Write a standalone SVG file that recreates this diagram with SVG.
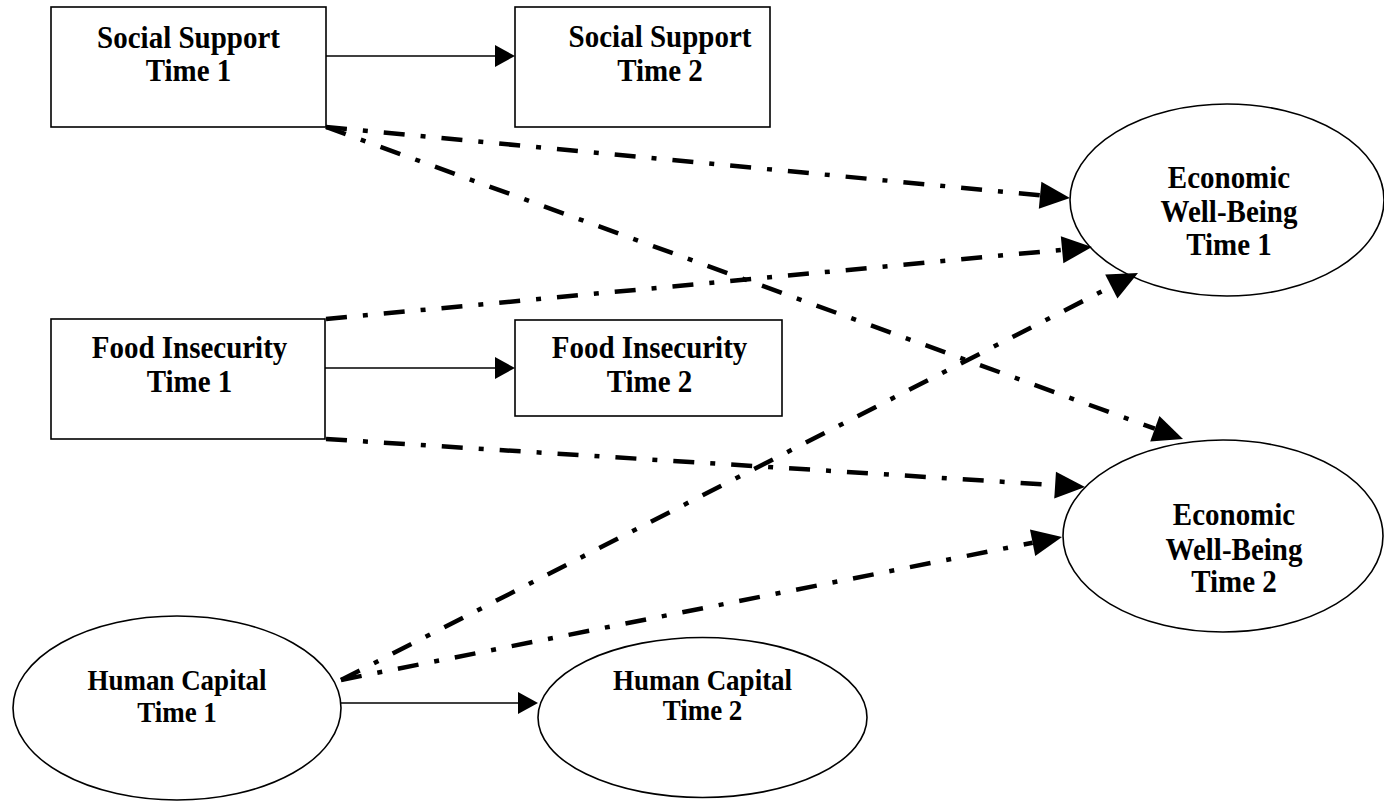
<svg xmlns="http://www.w3.org/2000/svg" width="1384" height="801" viewBox="0 0 1384 801">
  <style>
    .box { fill: #fff; stroke: #000; stroke-width: 1.6; }
    .oval { fill: #fff; stroke: #000; stroke-width: 1.6; }
    .lbl { font-family: "Liberation Serif", "Times New Roman", serif; font-weight: bold; font-size: 29px; text-anchor: middle; fill: #000; }
    .lbl.sm { font-size: 27px; }
    .solid { stroke: #000; stroke-width: 1.6; fill: none; marker-end: url(#headSolid); }
    .dashdot { stroke: #000; stroke-width: 4.5; fill: none; stroke-dasharray: 21 16 5 16; marker-end: url(#headBold); }
  </style>
  <defs>
    <marker id="headSolid" markerUnits="userSpaceOnUse" markerWidth="20" markerHeight="22" refX="0" refY="11" orient="auto" overflow="visible">
      <path d="M0,0 L20,11 L0,22 z" fill="#000"/>
    </marker>
    <marker id="headBold" markerUnits="userSpaceOnUse" markerWidth="30" markerHeight="27" refX="0" refY="13.5" orient="auto" overflow="visible">
      <path d="M0,0 L30,13.5 L0,27 z" fill="#000"/>
    </marker>
  </defs>

  <rect width="1384" height="801" fill="#fff"/>

  <!-- nodes; labels are set in a slightly tall Times-style face -->
  <g id="social-support-t1">
    <rect class="box" x="51" y="7" width="275" height="120"/>
    <text class="lbl" transform="matrix(1 0 0 1.12 188.5 48)">Social Support</text>
    <text class="lbl" transform="matrix(1 0 0 1.12 188.5 81)">Time 1</text>
  </g>
  <g id="social-support-t2">
    <rect class="box" x="515" y="7" width="255" height="120"/>
    <text class="lbl" transform="matrix(1 0 0 1.12 660 47)">Social Support</text>
    <text class="lbl" transform="matrix(1 0 0 1.12 660 81)">Time 2</text>
  </g>
  <g id="food-insecurity-t1">
    <rect class="box" x="51" y="319" width="274" height="120"/>
    <text class="lbl" transform="matrix(1 0 0 1.12 189.5 358)">Food Insecurity</text>
    <text class="lbl" transform="matrix(1 0 0 1.12 189.5 392)">Time 1</text>
  </g>
  <g id="food-insecurity-t2">
    <rect class="box" x="515" y="320" width="267" height="96"/>
    <text class="lbl" transform="matrix(1 0 0 1.12 649.5 358)">Food Insecurity</text>
    <text class="lbl" transform="matrix(1 0 0 1.12 649.5 392)">Time 2</text>
  </g>
  <g id="human-capital-t1">
    <ellipse class="oval" cx="177" cy="708" rx="164" ry="92"/>
    <text class="lbl sm" transform="matrix(1 0 0 1.12 177 690)">Human Capital</text>
    <text class="lbl sm" transform="matrix(1 0 0 1.12 177 722)">Time 1</text>
  </g>
  <g id="human-capital-t2">
    <ellipse class="oval" cx="702.5" cy="717.5" rx="164.5" ry="80"/>
    <text class="lbl sm" transform="matrix(1 0 0 1.12 702.5 690)">Human Capital</text>
    <text class="lbl sm" transform="matrix(1 0 0 1.12 702.5 720)">Time 2</text>
  </g>
  <g id="economic-wellbeing-t1">
    <ellipse class="oval" cx="1227" cy="200" rx="157" ry="96"/>
    <text class="lbl" transform="matrix(1 0 0 1.12 1229 188)">Economic</text>
    <text class="lbl" transform="matrix(1 0 0 1.12 1229 222)">Well-Being</text>
    <text class="lbl" transform="matrix(1 0 0 1.12 1229 255)">Time 1</text>
  </g>
  <g id="economic-wellbeing-t2">
    <ellipse class="oval" cx="1223" cy="536" rx="160" ry="96"/>
    <text class="lbl" transform="matrix(1 0 0 1.12 1234 525)">Economic</text>
    <text class="lbl" transform="matrix(1 0 0 1.12 1234 560)">Well-Being</text>
    <text class="lbl" transform="matrix(1 0 0 1.12 1234 592)">Time 2</text>
  </g>

  <!-- connectors -->
  <g id="connectors">
    <line class="solid" x1="326" y1="56" x2="495" y2="56"/>
    <line class="solid" x1="325" y1="368" x2="495" y2="368"/>
    <line class="solid" x1="341" y1="703" x2="518" y2="703"/>

    <line class="dashdot" x1="326" y1="127" x2="1040.1" y2="195.2"/>
    <line class="dashdot" x1="326" y1="127" x2="1154.8" y2="428.7"/>
    <line class="dashdot" x1="326" y1="319" x2="1062.1" y2="249.8"/>
    <line class="dashdot" x1="326" y1="439" x2="1055.1" y2="485.1"/>
    <line class="dashdot" x1="341" y1="680" x2="1111.3" y2="286.6"/>
    <line class="dashdot" x1="341" y1="680" x2="1032.6" y2="542.8"/>
  </g>
</svg>
